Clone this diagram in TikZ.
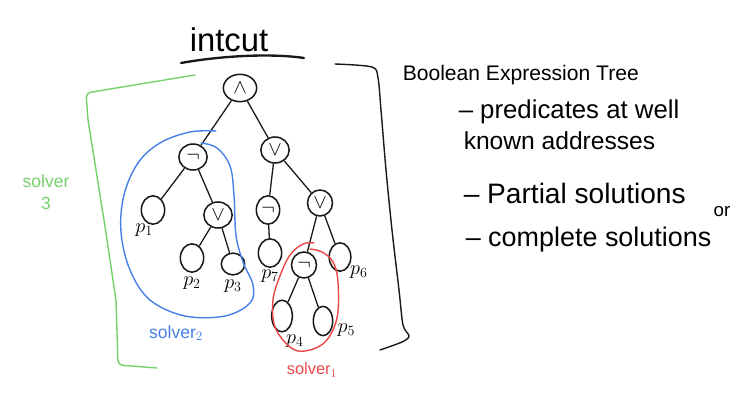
\documentclass[tikz,border=0pt]{standalone}
\usepackage{amsmath,amssymb}
\usepackage{fontspec}
\setmainfont{Liberation Sans}
\usetikzlibrary{positioning, shapes.geometric}

\definecolor{penblack}{RGB}{25,25,25}
\definecolor{pengreen}{RGB}{118,208,108}
\definecolor{penblue}{RGB}{72,128,232}
\definecolor{penred}{RGB}{236,72,72}

\begin{document}
\begin{tikzpicture}[
    x=0.03cm, y=-0.03cm,
    line width=1.3pt, draw=penblack,
    op/.style={draw, ellipse, inner sep=0pt, minimum width=0.85cm, minimum height=0.78cm, font=\LARGE},
    leaf/.style={draw, ellipse, inner sep=0pt, minimum width=0.7cm, minimum height=0.85cm},
    edge/.style={line width=1.1pt},
    lbl/.style={inner sep=0pt, font=\LARGE},
    note/.style={anchor=west, inner sep=0pt, font=\fontsize{#1}{#1}\selectfont},
    pen/.style={line width=1.2pt, line join=round, line cap=round}
]
\useasboundingbox (0,0) rectangle (746,405);

% Title
\node[font=\fontsize{28}{30}\selectfont, inner sep=0pt] (title) at (229,40) {intcut};
\draw[pen, line width=2pt] (181,63) .. controls (220,56) and (270,53) .. (304,58);

% Boolean expression tree
\node[op, minimum width=1cm, minimum height=0.82cm] (and) at (240,88) {$\wedge$};
\node[op] (notl) at (193,157) {$\neg$};
\node[op] (orr) at (275,150) {$\vee$};
\node[leaf] (l1) at (153,210) {};
\node[op] (orl) at (218,215) {$\vee$};
\node[leaf] (l2) at (192,258) {};
\node[leaf, minimum height=0.65cm] (l3) at (233,264) {};
\node[op, minimum width=0.7cm, minimum height=0.85cm] (notm) at (268,210) {$\neg$};
\node[op, minimum width=0.75cm] (orrr) at (320,203) {$\vee$};
\node[leaf] (l7) at (270,253) {};
\node[op, minimum width=0.75cm] (notr) at (304,265) {$\neg$};
\node[leaf, minimum width=0.65cm] (l6) at (340,257) {};
\node[leaf, minimum width=0.62cm, minimum height=0.95cm] (l4) at (282,316) {};
\node[leaf, minimum width=0.58cm, minimum height=0.88cm] (l5) at (323,321) {};

\draw[edge] (and) -- (notl);
\draw[edge] (and) -- (orr);
\draw[edge] (notl) -- (l1);
\draw[edge] (notl) -- (orl);
\draw[edge] (orl) -- (l2);
\draw[edge] (orl) -- (l3);
\draw[edge] (orr) -- (notm);
\draw[edge] (orr) -- (orrr);
\draw[edge] (notm) -- (l7);
\draw[edge] (orrr) -- (notr);
\draw[edge] (orrr) -- (l6);
\draw[edge] (notr) -- (l4);
\draw[edge] (notr) -- (l5);

% predicate labels
\node[lbl, below left=2pt and -8pt of l1] (p1) {$p_1$};
\node[lbl, below=3pt of l2] (p2) {$p_2$};
\node[lbl, below=3pt of l3] (p3) {$p_3$};
\node[lbl, below=1pt of l7] (p7) {$p_7$};
\node[lbl, below right=-2pt and 1pt of l6] (p6) {$p_6$};
\node[lbl, below=1pt of l4, xshift=11pt] (p4) {$p_4$};
\node[lbl, right=3pt of l5, yshift=-8pt] (p5) {$p_5$};

% bracket on the right of the tree
\draw[pen] plot[smooth, tension=0.5] coordinates {(335,64) (372,67) (378,78) (381,110) (386,170) (392,230) (399,290) (403,325) (409,336) (402,342) (380,350)};

% solver 3 (green)
\draw[pen, pengreen, rounded corners=4pt] (195,75) -- (86,93) -- (88,120) -- (104,220) -- (116,300) -- (118,365) -- (157,368);
\node[pengreen, font=\fontsize{15}{15}\selectfont, inner sep=0pt] (s3) at (46,181) {solver};
\node[pengreen, font=\fontsize{15}{15}\selectfont, inner sep=0pt, below=7pt of s3] (s3n) {3};

% solver 2 (blue)
\draw[pen, penblue] plot[smooth, tension=0.6] coordinates {(216,131) (190,132) (160,143) (138,163) (124,195) (121,232) (130,270) (150,300) (185,316) (225,316) (250,303) (253,285) (243,262) (236,235) (234,195) (230,166) (217,148) (201,143)};
\node[penblue, font=\fontsize{15}{15}\selectfont, inner sep=0pt] (s2) at (176,333) {solver$_2$};

% solver 1 (red)
\draw[pen, penred] plot[smooth, tension=0.6] coordinates {(314,243) (303,244) (290,255) (280,276) (273,300) (275,327) (290,347) (305,351) (325,342) (337,318) (338,282) (333,262) (322,252) (310,249)};
\node[penred, font=\fontsize{14}{14}\selectfont, inner sep=0pt] (s1) at (312,370) {solver$_1$};

% notes
\node[note=18] (n1) at (402,75) {Boolean Expression Tree};
\node[note=22] (n2) at (458,112) {– predicates at well};
\node[note=21] (n3) at (463,141) {known addresses};
\node[note=24] (n4) at (463,193) {– Partial solutions};
\node[note=16, anchor=center] (n5) at (722,212) {or};
\node[note=23] (n6) at (465,240) {– complete solutions};

\end{tikzpicture}
\end{document}
